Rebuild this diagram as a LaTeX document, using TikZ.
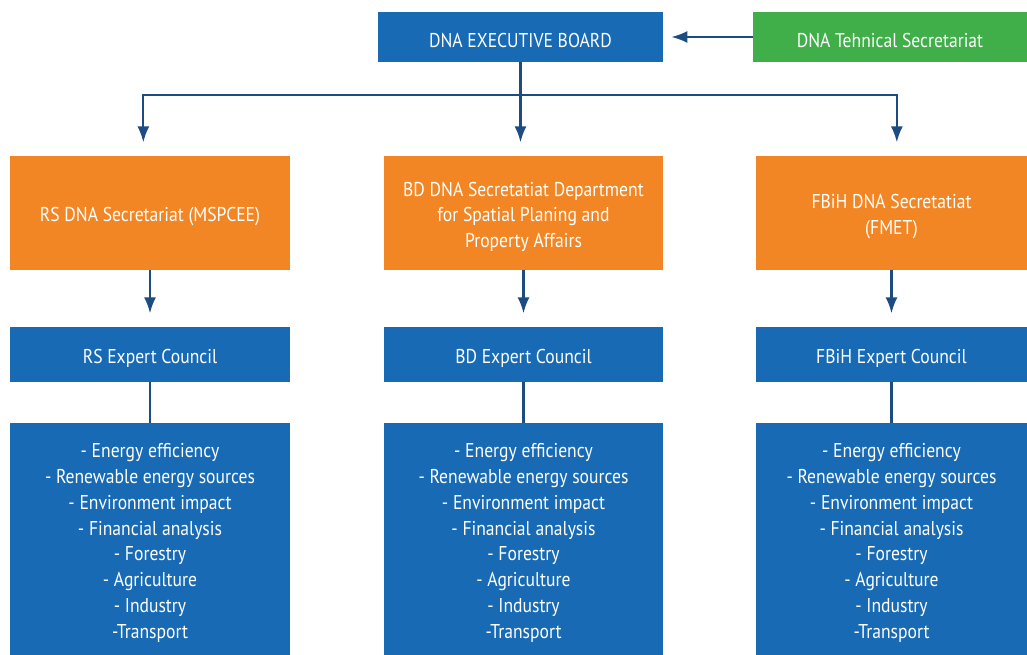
\documentclass[tikz,border=0pt]{standalone}
\usepackage{fontspec}
\setmainfont{PT Sans}[FakeStretch=0.88]
\usetikzlibrary{arrows.meta}

\definecolor{dnablue}{RGB}{23,106,179}
\definecolor{dnaorange}{RGB}{243,134,36}
\definecolor{dnagreen}{RGB}{64,174,73}
\definecolor{linkblue}{RGB}{28,76,130}

\newcommand{\toppad}{\rule{0pt}{16.5pt}}

\begin{document}
\begin{tikzpicture}[x=0.75pt,y=-0.75pt,>={Latex[length=12pt,width=9pt]},
  box/.style={text=white,font=\fontsize{15}{19.3}\selectfont,align=center,inner sep=0pt},
  bluebox/.style={box,fill=dnablue},
  orangebox/.style={box,fill=dnaorange,minimum height=85.5pt},
  greenbox/.style={box,fill=dnagreen},
  link/.style={draw=linkblue,line width=1.7pt},
  arrowlink/.style={link,->,shorten >=10pt}]

\useasboundingbox (0,0) rectangle (1027,655);

% top
\node[bluebox,minimum width=213.75pt,minimum height=37.5pt] (exec) at (520.5,37) {\toppad DNA EXECUTIVE BOARD};
\node[greenbox,minimum width=205.5pt,minimum height=37.5pt] (tech) at (890,37) {\toppad DNA Tehnical Secretariat};

\draw[link,->,shorten >=6pt] (tech.west) -- (exec.east);

% secretariats
\node[orangebox,minimum width=210pt] (rs) at (150,213) {\toppad RS DNA Secretariat (MSPCEE)};
\node[orangebox,minimum width=209.25pt] (bd) at (523.5,213) {\toppad BD DNA Secretatiat Department\\for Spatial Planing and\\Property Affairs};
\node[orangebox,minimum width=203.25pt] (fbih) at (891.5,213) {\toppad FBiH DNA Secretatiat\\(FMET)};

\coordinate (branch) at (520.5,95);
\draw[link] (exec.south) -- (branch);
\draw[arrowlink] (branch) -| ([xshift=-5pt]rs.north);
\draw[arrowlink] (branch) -| ([xshift=4pt]fbih.north);
\draw[arrowlink] (exec.south) -- (exec.south |- bd.north);

% expert councils
\node[bluebox,minimum width=210pt,minimum height=41.25pt] (rsec) at (150,354.5) {\toppad RS Expert Council};
\node[bluebox,minimum width=209.25pt,minimum height=41.25pt] (bdec) at (523.5,354.5) {\toppad BD Expert Council};
\node[bluebox,minimum width=203.25pt,minimum height=41.25pt] (fbihec) at (891.5,354.5) {\toppad FBiH Expert Council};

\draw[arrowlink] (rs) -- (rsec);
\draw[arrowlink] (bd) -- (bdec);
\draw[arrowlink] (fbih) -- (fbihec);

% areas
\newcommand{\arealist}{\toppad - Energy efficiency\\- Renewable energy sources\\- Environment impact\\- Financial analysis\\- Forestry\\- Agriculture\\- Industry\\-Transport}
\node[bluebox,minimum width=210pt,minimum height=174pt] (rsar) at (150,539) {\arealist};
\node[bluebox,minimum width=209.25pt,minimum height=174pt] (bdar) at (523.5,539) {\arealist};
\node[bluebox,minimum width=203.25pt,minimum height=174pt] (fbihar) at (891.5,539) {\arealist};

\draw[link] (rsec) -- (rsar);
\draw[link] (bdec) -- (bdar);
\draw[link] (fbihec) -- (fbihar);

\end{tikzpicture}
\end{document}
